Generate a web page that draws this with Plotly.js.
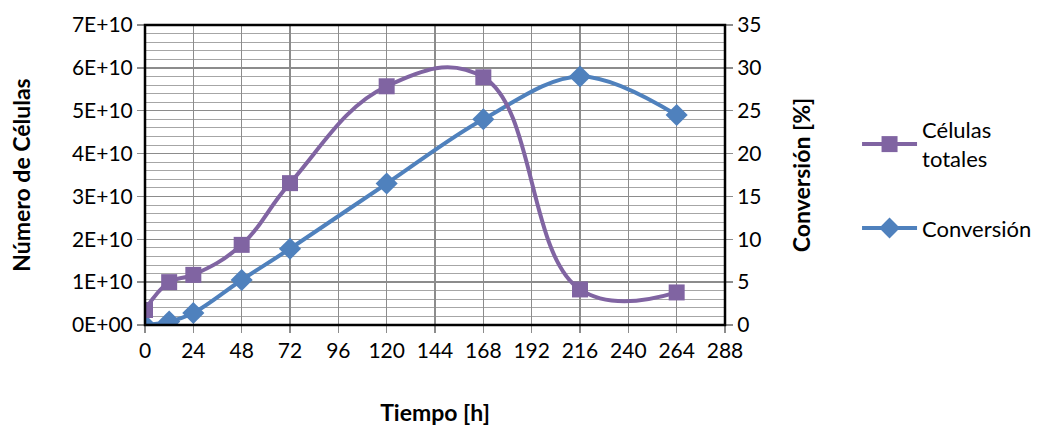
<!DOCTYPE html>
<html>
<head>
<meta charset="utf-8">
<script src="https://cdn.plot.ly/plotly-3.0.1.min.js"></script>
<style>html,body{margin:0;padding:0;background:#fff;}#chart{width:1042px;height:430px;}</style>
</head>
<body>
<div id="chart"></div>
<script>
// Data
var tiempo = [0, 12, 24, 48, 72, 120, 168, 216, 264];
var celulasTotales = [3.5e9, 1.0e10, 1.17e10, 1.87e10, 3.31e10, 5.57e10, 5.78e10, 8.3e9, 7.6e9];
var conversion = [0, 0.4, 1.4, 5.25, 8.9, 16.5, 24.0, 29.0, 24.5];

var leftTickVals = [0, 1e10, 2e10, 3e10, 4e10, 5e10, 6e10, 7e10];
var leftTickText = ["0E+00", "1E+10", "2E+10", "3E+10", "4E+10", "5E+10", "6E+10", "7E+10"];

var FONT = "Lato, 'Open Sans', sans-serif";
var purple = "#8064A2";
var blue = "#4F81BD";

var traces = [
  {
    x: tiempo, y: conversion, name: "Conversión", yaxis: "y",
    type: "scatter", mode: "lines+markers",
    line: {color: blue, width: 4, shape: "spline", smoothing: 1},
    marker: {symbol: "diamond", size: 17, color: blue},
    legendrank: 2, legendgroup: "b"
  },
  {
    x: tiempo, y: celulasTotales, name: "Células<br>totales", yaxis: "y2",
    type: "scatter", mode: "lines+markers",
    line: {color: purple, width: 4, shape: "spline", smoothing: 1.2},
    marker: {symbol: "square", size: 16, color: purple},
    legendrank: 1, legendgroup: "a"
  }
];

var layout = {
  width: 1042, height: 430,
  margin: {l: 145, r: 317, t: 25, b: 105},
  paper_bgcolor: "#fff", plot_bgcolor: "#fff",
  font: {family: FONT, size: 22, color: "#000"},
  showlegend: true,
  legend: {xref: "container", yref: "container", x: 0.8225, y: 0.7465,
           xanchor: "left", yanchor: "top",
           font: {family: FONT, size: 22, color: "#000"},
           tracegroupgap: 38, itemwidth: 55, bgcolor: "rgba(0,0,0,0)"},
  xaxis: {
    range: [0, 288], dtick: 24, tick0: 0, tickmode: "linear", automargin: false,
    showgrid: true, gridcolor: "#8c8c8c", gridwidth: 1.3,
    zeroline: false, showline: false,
    ticks: "outside", ticklen: 7, tickcolor: "#8c8c8c", tickwidth: 1.3,
    tickfont: {family: FONT, size: 21},
    title: {text: "<b>Tiempo [h]</b>", font: {family: FONT, size: 23}, standoff: 43}
  },
  yaxis: {
    side: "right", range: [0, 35], dtick: 5, tickmode: "linear", automargin: false,
    showgrid: true, gridcolor: "#8c8c8c", gridwidth: 1.3,
    minor: {dtick: 1, showgrid: true, gridcolor: "#a6a6a6", gridwidth: 1},
    zeroline: false, showline: false,
    ticks: "outside", ticklen: 7, tickcolor: "#8c8c8c", tickwidth: 1.3,
    tickfont: {family: FONT, size: 21},
    title: {text: "<b>Conversión [%]</b>", font: {family: FONT, size: 23}, standoff: 33}
  },
  yaxis2: {
    overlaying: "y", side: "left", range: [0, 7e10], automargin: false,
    tickmode: "array", tickvals: leftTickVals, ticktext: leftTickText,
    showgrid: false, zeroline: false, showline: false,
    ticks: "outside", ticklen: 7, tickcolor: "#8c8c8c", tickwidth: 1.3,
    tickfont: {family: FONT, size: 21},
    title: {text: "<b>Número de Células</b>", font: {family: FONT, size: 23}, standoff: 34}
  },
  shapes: [
    {type: "rect", xref: "paper", yref: "paper", x0: 0, x1: 1, y0: 0, y1: 1,
     line: {color: "#000", width: 2.5}, fillcolor: "rgba(0,0,0,0)", layer: "above"}
  ]
};

Plotly.newPlot("chart", traces, layout, {staticPlot: true, displayModeBar: false});
</script>
</body>
</html>
